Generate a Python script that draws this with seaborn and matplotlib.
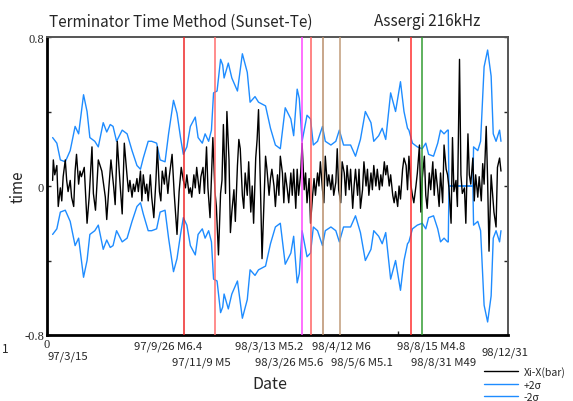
import matplotlib
matplotlib.use("Agg")
import matplotlib.pyplot as plt
import matplotlib.transforms as mtransforms
import seaborn as sns
import pandas as pd

# days counted from 97/3/15 (axis runs 0 .. 656 = 98/12/31)
days = [8, 9, 11, 14, 16, 19, 21, 23, 26, 28, 30, 33, 35, 38, 40, 42, 45, 47, 49, 53,
        57, 60, 64, 66, 69, 73, 78, 83, 85, 88, 91, 95, 97, 100, 104, 107, 110, 114, 116, 118,
        121, 123, 125, 128, 130, 133, 135, 137, 140, 142, 144, 147, 149, 152, 155, 157, 160, 162, 164, 167,
        169, 172, 174, 178, 181, 185, 188, 191, 194, 197, 199, 202, 204, 206, 209, 211, 213, 217, 219, 222,
        224, 227, 229, 232, 236, 239, 241, 244, 247, 249, 251, 254, 256, 259, 261, 263, 266, 268, 271, 273,
        275, 278, 280, 282, 285, 287, 290, 292, 294, 297, 299, 301, 304, 306, 309, 311, 313, 316, 318, 320,
        323, 325, 328, 330, 332, 335, 337, 339, 342, 344, 347, 349, 351, 354, 356, 358, 361, 363, 366, 368,
        370, 373, 375, 378, 380, 382, 385, 387, 389, 392, 394, 396, 399, 401, 404, 406, 408, 411, 413, 415,
        418, 420, 423, 425, 427, 430, 432, 435, 437, 439, 442, 444, 446, 449, 451, 454, 456, 458, 461, 463,
        465, 468, 470, 473, 475, 477, 480, 482, 484, 487, 489, 492, 494, 496, 499, 501, 503, 506, 508, 511,
        513, 515, 518, 520, 522, 525, 527, 530, 532, 534, 537, 539, 541, 544, 546, 549, 551, 553, 556, 558,
        560, 563, 565, 568, 570, 572, 575, 577, 579, 582, 584, 587, 589, 591, 594, 596, 599, 601, 603, 606,
        608, 610, 613, 615, 618, 620, 622, 625, 627, 629, 632, 634, 636, 639, 641, 644, 646]
dev = [0.03, 0.14, 0.06, 0.11, -0.11, -0.01, -0.08, 0.05, 0.14, 0.03, -0.03, 0.03, -0.06, -0.11, 0.08, 0.17, 0.01, 0.08, 0.05, 0.10,
       -0.20, -0.06, 0.21, -0.04, -0.13, 0.14, 0.08, -0.06, -0.18, -0.01, 0.14, -0.01, -0.10, 0.24, 0.01, -0.15, 0.23, 0.05, -0.03, 0.03,
       -0.06, 0.01, -0.03, 0.04, -0.03, 0.08, -0.08, 0.06, -0.04, 0.01, -0.08, 0.06, -0.06, -0.17, 0.03, 0.21, -0.03, -0.08, 0.08, 0.01,
       0.10, -0.04, 0.05, 0.17, -0.04, -0.26, -0.03, 0.10, 0.03, -0.01, 0.06, -0.04, -0.01, -0.06, 0.06, -0.01, 0.10, -0.04, 0.05, 0.10,
       -0.04, 0.21, -0.01, -0.17, 0.26, -0.03, -0.11, -0.37, -0.04, 0.03, 0.33, -0.04, 0.40, 0.14, -0.25, -0.14, -0.02, -0.19, 0.11, 0.25,
       0.20, -0.05, -0.12, 0.07, -0.05, 0.13, -0.14, 0.00, -0.20, 0.15, 0.25, 0.41, -0.05, -0.39, -0.05, 0.16, 0.09, -0.05, 0.04, 0.09,
       0.00, -0.11, 0.06, -0.05, 0.16, 0.07, -0.09, 0.07, -0.02, -0.09, 0.07, -0.05, 0.09, -0.12, 0.09, -0.05, 0.07, 0.23, -0.02, 0.07,
       -0.09, 0.04, -0.20, -0.05, 0.04, -0.05, 0.07, 0.00, 0.13, -0.02, -0.09, 0.16, 0.00, 0.06, -0.02, 0.06, -0.05, 0.02, 0.20, -0.02,
       -0.09, 0.13, 0.07, -0.05, 0.11, -0.02, 0.09, -0.12, 0.00, 0.09, -0.05, 0.09, -0.12, -0.02, 0.13, 0.00, 0.09, -0.05, 0.07, -0.02,
       0.11, 0.00, 0.09, -0.02, 0.06, 0.00, 0.13, 0.06, 0.11, 0.00, 0.06, -0.05, -0.09, -0.03, -0.11, 0.00, -0.07, 0.09, 0.15, 0.11,
       -0.02, 0.16, 0.00, -0.05, -0.09, 0.00, 0.07, 0.22, -0.14, 0.04, 0.16, -0.05, -0.12, 0.07, -0.02, 0.13, -0.05, 0.09, -0.02, -0.11,
       0.07, -0.09, 0.22, 0.09, 0.06, -0.01, -0.20, 0.26, -0.03, 0.03, -0.11, 0.68, 0.06, -0.04, -0.01, -0.20, 0.28, 0.06, 0.01, 0.15,
       -0.08, 0.06, -0.06, 0.05, -0.08, 0.12, 0.01, 0.32, 0.03, -0.35, 0.06, -0.04, -0.14, -0.22, 0.10, 0.15, 0.08]

# 2 sigma envelope (plotted as +2σ and -2σ)
sig_days = [8, 14, 19, 26, 33, 40, 45, 52, 57, 61, 68, 73, 80, 85, 90, 94, 99, 107, 114, 121,
            128, 133, 137, 144, 149, 156, 161, 168, 173, 180, 185, 190, 194, 199, 204, 211, 215, 221, 225, 230,
            234, 237, 242, 247, 250, 252, 255, 258, 263, 271, 278, 285, 289, 296, 301, 311, 318, 325, 332, 339,
            347, 351, 356, 359, 363, 370, 375, 379, 385, 392, 396, 404, 411, 416, 422, 432, 439, 446, 453, 461,
            465, 472, 477, 482, 489, 496, 503, 508, 513, 515, 520, 527, 534, 539, 543, 550, 556, 560, 565, 570,
            571, 572, 606, 607, 613, 617, 622, 627, 632, 635, 639, 644, 646]
sig2 = [0.26, 0.23, 0.14, 0.13, 0.19, 0.32, 0.28, 0.49, 0.40, 0.26, 0.24, 0.21, 0.34, 0.29, 0.33, 0.32, 0.24, 0.30, 0.28, 0.19,
        0.11, 0.09, 0.15, 0.24, 0.24, 0.23, 0.14, 0.13, 0.28, 0.46, 0.39, 0.26, 0.17, 0.21, 0.32, 0.37, 0.26, 0.23, 0.28, 0.24,
        0.30, 0.50, 0.51, 0.68, 0.65, 0.58, 0.62, 0.66, 0.58, 0.51, 0.71, 0.61, 0.45, 0.48, 0.45, 0.43, 0.31, 0.22, 0.20, 0.42,
        0.36, 0.27, 0.52, 0.47, 0.24, 0.38, 0.36, 0.22, 0.24, 0.32, 0.24, 0.22, 0.24, 0.30, 0.22, 0.22, 0.16, 0.25, 0.40, 0.34,
        0.24, 0.27, 0.31, 0.25, 0.50, 0.40, 0.56, 0.40, 0.31, 0.30, 0.23, 0.21, 0.20, 0.23, 0.17, 0.16, 0.23, 0.30, 0.28, 0.30,
        0.30, 0.00, 0.00, 0.21, 0.19, 0.24, 0.64, 0.73, 0.59, 0.28, 0.24, 0.30, 0.24]

# earthquakes
eq_days = [195, 239, 363, 376, 393, 417, 518, 534]
eq_labels = ["97/9/26 M6.4", "97/11/9 M5", "98/3/13 M5.2", "98/3/26 M5.6",
             "98/4/12 M6", "98/5/6 M5.1", "98/8/15 M4.8", "98/8/31 M49"]
eq_colors = ["#ee2222", "#ff6a6a", "#ff44ff", "#ff6060",
             "#b88c68", "#c09a78", "#ff2a2a", "#2e9a2e"]
label_days = [173, 220, 316, 345, 419, 448, 546, 565]

df = pd.DataFrame({"day": days, "dev": dev})
sg = pd.DataFrame({"day": sig_days, "up": sig2, "lo": [-v for v in sig2]})

sns.set_style("ticks")
jp = ["Noto Sans CJK JP", "DejaVu Sans"]
plt.rcParams["font.family"] = jp

fig = plt.figure(figsize=(5.73, 4.02), dpi=100)
ax = fig.add_axes([47 / 573, 66 / 402, 461 / 573, 298 / 402])

sns.lineplot(data=df, x="day", y="dev", ax=ax, color="black", lw=1.0,
             label="Xi-X(bar)", zorder=3)
sns.lineplot(data=sg, x="day", y="up", ax=ax, color="#1e8cff", lw=1.0,
             label="+2σ", zorder=2)
sns.lineplot(data=sg, x="day", y="lo", ax=ax, color="#1e8cff", lw=1.0,
             label="-2σ", zorder=2)

for d, c in zip(eq_days, eq_colors):
    ax.axvline(d, color=c, lw=1.2, zorder=4, alpha=0.9)

ax.set_xlim(0, 656)
ax.set_ylim(-0.8, 0.8)
ax.set_xticks([0, 500])
ax.set_xticklabels(["0", ""])
ax.set_yticks([-0.8, -0.4, 0, 0.4, 0.8])
ax.set_yticklabels(["-0.8", "", "0", "", "0.8"])
for t in ax.get_xticklabels() + ax.get_yticklabels():
    t.set_fontfamily("Liberation Serif")
    t.set_fontsize(9)
ax.tick_params(direction="in", length=3, width=1, top=True, right=True, pad=2)
ax.set_xlabel("")
ax.set_ylabel("time", fontsize=11)
ax.yaxis.set_label_coords(-20 / 461, 0.5)

for s in ["left", "bottom"]:
    ax.spines[s].set_color("black")
    ax.spines[s].set_linewidth(2)
for s in ["top", "right"]:
    ax.spines[s].set_color("#555555")
    ax.spines[s].set_linewidth(1.4)

trans = mtransforms.blended_transform_factory(ax.transData, ax.transAxes)
for i, (d, lab) in enumerate(zip(label_days, eq_labels)):
    yy = -0.037 if i % 2 == 0 else -0.091
    ax.text(d, yy, lab, transform=trans, ha="center", va="center", fontsize=8.2)
ax.text(0, -0.070, "97/3/15", transform=trans, ha="left", va="center", fontsize=8.2)
ax.text(652, -0.057, "98/12/31", transform=trans, ha="center", va="center", fontsize=8.2)

fig.text(270 / 573, 1 - 385 / 402, "Date", ha="center", va="center", fontsize=11.5)
fig.text(5 / 573, 1 - 350 / 402, "1", ha="center", va="center", fontsize=8.5)
fig.text(49 / 573, 1 - 22 / 402, "Terminator Time Method (Sunset-Te)",
         ha="left", va="center", fontsize=11)
fig.text(374 / 573, 1 - 22 / 402, "Assergi 216kHz", ha="left", va="center", fontsize=11)

ax.legend(loc="upper left", bbox_to_anchor=(484 / 573, 1 - 367 / 402),
          bbox_transform=fig.transFigure, frameon=False, fontsize=7.5,
          handlelength=3.3, labelspacing=0.25, handletextpad=0.5,
          borderpad=0, borderaxespad=0)

fig.savefig("out.png", dpi=100)
